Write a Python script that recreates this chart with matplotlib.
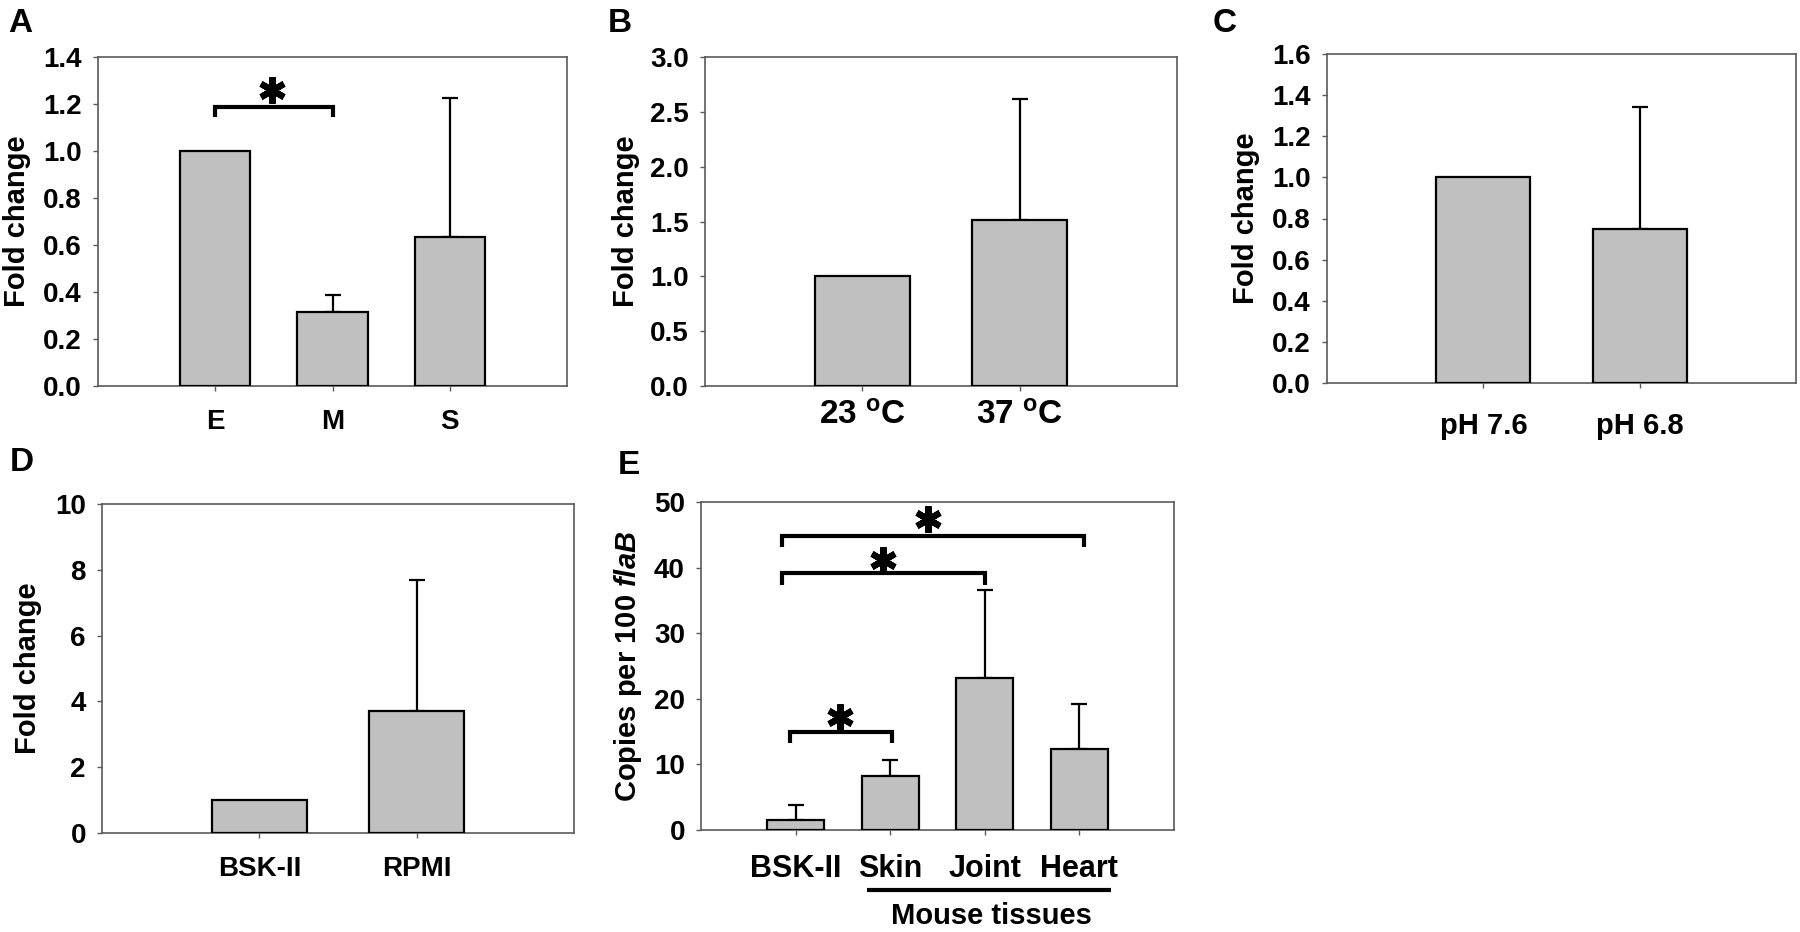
import matplotlib
matplotlib.use('Agg')
import matplotlib.pyplot as plt
import matplotlib.transforms as mtransforms
import numpy as np

plt.rcParams['font.family'] = 'Liberation Sans'
plt.rcParams['font.weight'] = 'bold'
plt.rcParams['mathtext.fontset'] = 'custom'
plt.rcParams['mathtext.rm'] = 'Liberation Sans:bold'
plt.rcParams['mathtext.it'] = 'Liberation Sans:italic:bold'

# panel A - growth phase
a_cats = ['E', 'M', 'S']
a_vals = [1.0, 0.316, 0.636]
a_err = [0.0, 0.072, 0.588]
a_brackets = [(0.0, 1.0, 1.187, 1.145)]   # x0, x1, top, leg end
a_stars = [(0.48, 1.261)]

# panel B - temperature
b_cats = [r'23 $^{\mathrm{o}}$C', r'37 $^{\mathrm{o}}$C']
b_vals = [1.0, 1.512]
b_err = [0.0, 1.108]

# panel C - pH
c_cats = ['pH 7.6', 'pH 6.8']
c_vals = [1.0, 0.75]
c_err = [0.0, 0.592]

# panel D - medium
d_cats = ['BSK-II', 'RPMI']
d_vals = [1.0, 3.70]
d_err = [0.0, 3.98]

# panel E - mouse tissues
e_cats = ['BSK-II', 'Skin', 'Joint', 'Heart']
e_vals = [1.55, 8.3, 23.1, 12.3]
e_err = [2.25, 2.35, 13.5, 6.9]
e_brackets = [(-0.14, 3.05, 44.8, 43.2),
              (-0.14, 2.0, 39.2, 37.4),
              (-0.06, 1.02, 14.9, 13.2)]
e_stars = [(1.40, 47.4), (0.92, 41.2), (0.47, 17.2)]

W, H = 1800, 932
fig = plt.figure(figsize=(W / 100, H / 100), dpi=100)


def px_axes(l, t, r, b):
    return fig.add_axes([l / W, 1 - b / H, (r - l) / W, (b - t) / H])


def draw_panel(ax, cats, vals, errs, ylim, step, fmt, xfs, xpad, ylabel, ylx):
    x = np.arange(len(cats))
    ax.bar(x, vals, width=0.6, color='#c0c0c0', edgecolor='black',
           linewidth=1.6, zorder=3)
    errs = np.array(errs)
    m = errs > 0
    ax.errorbar(x[m], np.array(vals)[m], yerr=[np.zeros(m.sum()), errs[m]],
                fmt='none', ecolor='black', elinewidth=1.6, capsize=6,
                capthick=1.6, zorder=2)
    ax.set_xlim(-1, len(cats))
    ax.set_ylim(0, ylim)
    ticks = np.arange(0, ylim + step / 2, step)
    ax.set_yticks(ticks)
    ax.set_yticklabels([fmt.format(v) for v in ticks],
                       fontsize=20, fontweight='bold')
    ax.set_xticks(x)
    ax.set_xticklabels(cats, fontsize=xfs, fontweight='bold')
    for s in ax.spines.values():
        s.set_color('#5a5a5a')
        s.set_linewidth(1.2)
    ax.tick_params(axis='both', direction='out', length=3.6, width=1,
                   color='#5a5a5a')
    ax.tick_params(axis='y', pad=8)
    ax.tick_params(axis='x', pad=xpad)
    ax.set_ylabel(ylabel, fontsize=21, fontweight='bold', va='center')
    ax.yaxis.set_label_coords(ylx, 0.5)


def add_sig(ax, brackets, stars):
    for x0, x1, top, leg in brackets:
        ax.plot([x0, x0, x1, x1], [leg, top, top, leg], color='black',
                lw=3, solid_joinstyle='miter', solid_capstyle='butt',
                clip_on=False, zorder=4)
    for sx, sy in stars:
        ax.plot(sx, sy, marker=(6, 2, 0), markersize=19, markeredgewidth=4.5,
                color='black', clip_on=False, zorder=4)


axA = px_axes(98, 57, 567, 386)
draw_panel(axA, a_cats, a_vals, a_err, 1.4, 0.2, '{:.1f}', 20, 13,
           'Fold change', -0.173)
add_sig(axA, a_brackets, a_stars)

axB = px_axes(705, 57, 1177, 386)
draw_panel(axB, b_cats, b_vals, b_err, 3.0, 0.5, '{:.1f}', 24, 7,
           'Fold change', -0.167)

axC = px_axes(1327, 54, 1796, 383)
draw_panel(axC, c_cats, c_vals, c_err, 1.6, 0.2, '{:.1f}', 21, 17,
           'Fold change', -0.172)

axD = px_axes(102, 504, 574, 833)
draw_panel(axD, d_cats, d_vals, d_err, 10, 2, '{:.0f}', 20, 13,
           'Fold change', -0.157)

axE = px_axes(701, 502, 1174, 830)
draw_panel(axE, e_cats, e_vals, e_err, 50, 10, '{:.0f}', 22, 14,
           r'Copies per 100 $\mathit{flaB}$', -0.154)
add_sig(axE, e_brackets, e_stars)

# "Mouse tissues" group line under Skin..Heart
trans = mtransforms.blended_transform_factory(axE.transData, axE.transAxes)
axE.plot([0.76, 3.33], [-0.183, -0.183], color='black', lw=3,
         solid_capstyle='butt', transform=trans, clip_on=False)
axE.text(2.07, -0.262, 'Mouse tissues', transform=trans, ha='center',
         va='center', fontsize=21, fontweight='bold')

# panel letters
for lab, lx, ly in [('A', 8, 32), ('B', 608, 32), ('C', 1213, 32),
                    ('D', 10, 471), ('E', 618, 474)]:
    fig.text(lx / W, 1 - ly / H, lab, fontsize=24, fontweight='bold',
             va='baseline', ha='left')

fig.savefig('out.png', dpi=100)
